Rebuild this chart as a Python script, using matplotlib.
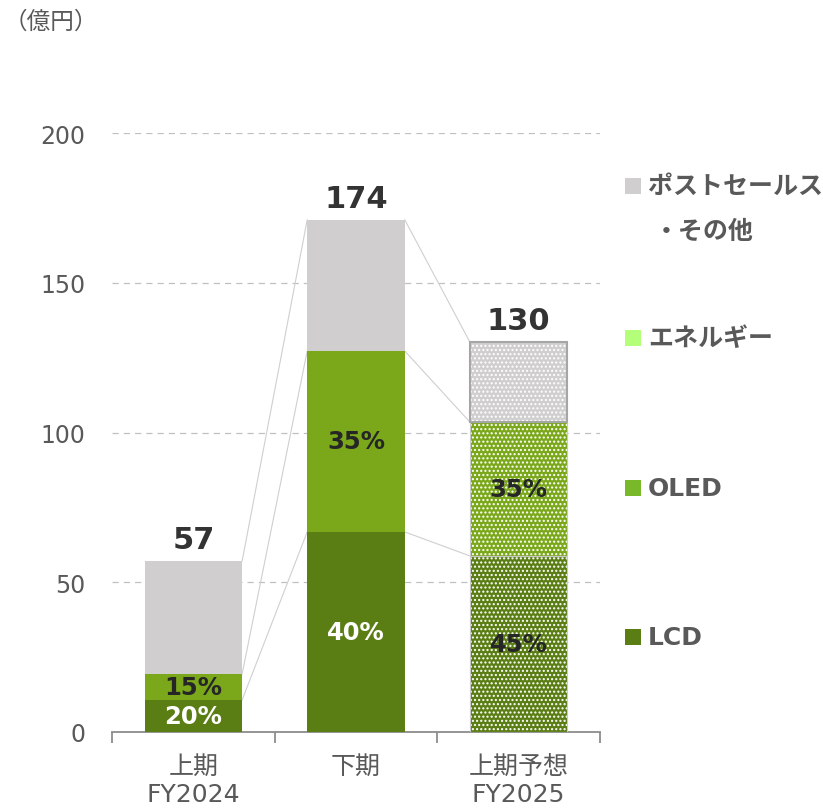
import matplotlib
matplotlib.use("Agg")
import matplotlib.pyplot as plt
from matplotlib.patches import Rectangle
import numpy as np

plt.rcParams['font.family'] = ['DejaVu Sans', 'Noto Sans CJK JP']
plt.rcParams['hatch.linewidth'] = 1.0

# ---- data ----
categories = ['上期\nFY2024', '下期', '上期予想\nFY2025']
lcd = [10.7, 66.8, 58.8]
oled = [8.7, 60.4, 44.7]
energy = [0.0, 0.0, 0.0]
post = [37.7, 43.8, 26.7]
totals = ['57', '174', '130']
lcd_pct = ['20%', '40%', '45%']
oled_pct = ['15%', '35%', '35%']
forecast = [False, False, True]
yticks = [0, 50, 100, 150, 200]

C_LCD = '#5b7e14'
C_OLED = '#7aa81a'
C_ENERGY = '#b3ff7a'
C_POST = '#d0cece'
TXT = '#595959'
DARK = '#262626'

W, H = 823, 812
fig = plt.figure(figsize=(W / 100, H / 100), dpi=100)
ax = fig.add_axes([112 / W, 1 - 733 / H, 488 / W, 599 / H])

x = np.arange(len(categories))
bw = 0.6

lcd_a = np.array(lcd)
oled_a = np.array(oled)
en_a = np.array(energy)
post_a = np.array(post)
b1 = lcd_a
b2 = b1 + oled_a
b3 = b2 + en_a
b4 = b3 + post_a

segs = [(np.zeros(3), lcd_a, C_LCD), (b1, oled_a, C_OLED), (b2, en_a, C_ENERGY), (b3, post_a, C_POST)]
for i in range(3):
    for k, (bot, val, col) in enumerate(segs):
        if val[i] <= 0:
            continue
        if forecast[i]:
            ax.bar(x[i], val[i], bw, bottom=bot[i], color=col, hatch='....',
                   edgecolor='white', linewidth=0, zorder=3)
            ec = '#a6a6a6' if k == 3 else '#c8c8c8'
            lw = 1.5 if k == 3 else 0.8
            ax.bar(x[i], val[i], bw, bottom=bot[i], fill=False,
                   edgecolor=ec, linewidth=lw, zorder=4)
        else:
            ax.bar(x[i], val[i], bw, bottom=bot[i], color=col, linewidth=0, zorder=3)

# connector lines
levels = [b1, b2, b4]
for i in range(2):
    for lv in levels:
        ax.plot([x[i] + bw / 2, x[i + 1] - bw / 2], [lv[i], lv[i + 1]],
                color='#cfcfcf', lw=0.8, zorder=2)

# labels
for i in range(3):
    ax.text(x[i], lcd_a[i] / 2, lcd_pct[i], ha='center', va='center',
            fontsize=17.5, fontweight='bold',
            color=('white' if not forecast[i] else DARK), zorder=5)
    ax.text(x[i], b1[i] + oled_a[i] / 2, oled_pct[i], ha='center', va='center',
            fontsize=17.5, fontweight='bold', color=DARK, zorder=5)
    ax.annotate(totals[i], (x[i], b4[i]), xytext=(0, 5), textcoords='offset points',
                ha='center', va='bottom', fontsize=22, fontweight='bold', color='#333333')

ax.set_xlim(-0.5, 2.5)
ax.set_ylim(0, 200)
ax.set_yticks(yticks)
ax.set_yticklabels([str(v) for v in yticks])
ax.tick_params(axis='y', length=0, pad=19, labelsize=17, labelcolor=TXT)
for v in yticks[1:]:
    ax.axhline(v, color='#c0c0c0', lw=0.9, ls=(0, (5, 4)), zorder=1)

ax.set_xticks(x)
ax.set_xticklabels(categories)
ax.tick_params(axis='x', which='major', length=0, pad=16, labelsize=18, labelcolor=TXT)
ax.set_xticks([-0.5, 0.5, 1.5, 2.5], minor=True)
ax.tick_params(axis='x', which='minor', length=8, width=1.3, color='#8c8c8c', direction='out')
for lab in ax.get_xticklabels():
    lab.set_linespacing(1.2)

for s in ['top', 'right', 'left']:
    ax.spines[s].set_visible(False)
ax.spines['bottom'].set_color('#8c8c8c')
ax.spines['bottom'].set_linewidth(1.3)

# unit label
fig.text(4 / W, 1 - 22 / H, '（億円）', ha='left', va='center', fontsize=17, color=TXT,
         family=['Noto Sans CJK JP'])

# legend
leg = [(187, C_POST, 'ポストセールス'), (339, '#b3ff7a', 'エネルギー'),
       (489, '#79b829', 'OLED'), (638, C_LCD, 'LCD')]
for yc, col, lab in leg:
    fig.add_artist(Rectangle((625 / W, 1 - (yc + 8) / H), 16 / W, 16 / H,
                             transform=fig.transFigure, color=col, lw=0))
    fig.text(648 / W, 1 - yc / H, lab, ha='left', va='center', fontsize=18,
             fontweight='bold', color=TXT)
fig.text(654 / W, 1 - 232 / H, '・その他', ha='left', va='center', fontsize=18,
         fontweight='bold', color=TXT)

fig.savefig('out.png', dpi=100)
